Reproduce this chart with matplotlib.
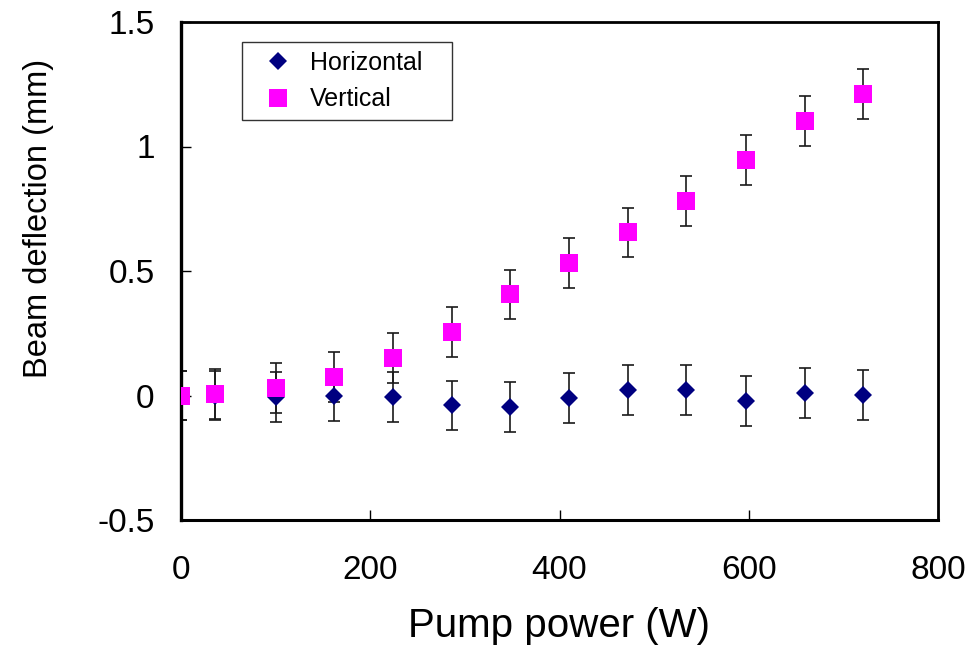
import numpy as np
import matplotlib
matplotlib.use("Agg")
import matplotlib.pyplot as plt

# pump power (W) and measured beam deflection (mm)
power = [0, 36, 100, 162, 224, 286, 348, 410, 472, 534, 597, 659, 721]
horizontal = [0.0, 0.0, -0.005, -0.002, -0.006, -0.04, -0.045, -0.011, 0.021, 0.022, -0.022, 0.011, 0.002]
vertical = [0.0, 0.005, 0.03, 0.075, 0.149, 0.256, 0.406, 0.531, 0.655, 0.78, 0.946, 1.101, 1.211]
err_h = [0.1] * len(power)
err_v = [0.1] * len(power)

x_ticks = [0, 200, 400, 600, 800]
y_ticks = [-0.5, 0, 0.5, 1, 1.5]
y_labels = ['-0.5', '0', '0.5', '1', '1.5']

plt.rcParams['font.family'] = ['Liberation Sans', 'DejaVu Sans']

fig = plt.figure(figsize=(9.71, 6.47), dpi=100)
ax = fig.add_axes([181/971, 1 - 520/647, (938-181)/971, (520-22)/647])

# error bars under the markers, squares drawn on top of diamonds
ax.errorbar(power, horizontal, yerr=err_h, fmt='none', ecolor='#1a1a1a',
            elinewidth=1.2, capsize=4.5, capthick=1.2, zorder=2)
ax.errorbar(power, vertical, yerr=err_v, fmt='none', ecolor='#1a1a1a',
            elinewidth=1.2, capsize=4.5, capthick=1.2, zorder=2)
ax.plot(power, horizontal, 'D', color='#000080', markersize=9.2,
        markeredgewidth=0, label='Horizontal', zorder=3)
ax.plot(power, vertical, 's', color='#ff00ff', markersize=13,
        markeredgewidth=0, label='Vertical', zorder=4)

ax.set_xlim(0, 800)
ax.set_ylim(-0.5, 1.5)
ax.set_xticks(x_ticks)
ax.set_yticks(y_ticks)
ax.set_yticklabels(y_labels)
ax.tick_params(axis='both', direction='in', length=7, width=1, labelsize=24)
ax.tick_params(axis='x', pad=25)
ax.tick_params(axis='y', pad=19)

for side in ['top', 'right']:
    ax.spines[side].set_linewidth(2)
ax.spines['left'].set_linewidth(2.4)
ax.spines['bottom'].set_linewidth(2.2)

ax.set_xlabel('Pump power (W)', fontsize=29)
ax.set_ylabel('Beam deflection (mm)', fontsize=23.5)
ax.xaxis.set_label_coords(0.5, -0.175)
ax.yaxis.set_label_coords(-0.168, 0.606)

leg = ax.legend(loc='upper left', bbox_to_anchor=(61/757, 0.0, 210/757, 478/498),
                mode='expand', borderaxespad=0, fontsize=18, frameon=True,
                fancybox=False, edgecolor='black', borderpad=0.35,
                handlelength=2.2, handletextpad=0.15, labelspacing=0.5)
leg.get_frame().set_linewidth(1)

fig.savefig('out.png', dpi=100)
